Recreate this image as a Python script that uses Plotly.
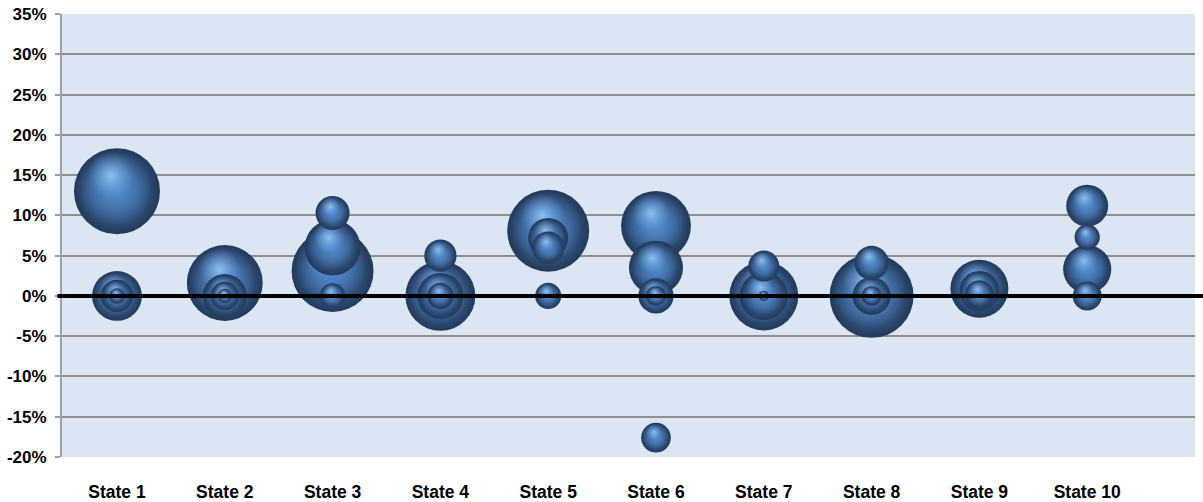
import numpy as np
import plotly.graph_objects as go

states = ["State 1", "State 2", "State 3", "State 4", "State 5",
          "State 6", "State 7", "State 8", "State 9", "State 10"]

# one entry per bubble: state number, growth (%), bubble value (area units)
bubble_state = [1, 1, 1, 1,
                2, 2, 2, 2,
                3, 3, 3, 3,
                4, 4, 4, 4,
                5, 5, 5, 5,
                6, 6, 6, 6, 6,
                7, 7, 7, 7,
                8, 8, 8, 8,
                9, 9, 9,
                10, 10, 10, 10]
bubble_growth = [13.0, 0.0, 0.0, 0.0,
                 1.6, 0.0, 0.0, 0.0,
                 3.1, 6.0, 10.3, 0.0,
                 5.0, 0.0, 0.0, 0.0,
                 8.1, 7.2, 6.0, 0.0,
                 8.7, 3.5, 0.0, 0.0, -17.6,
                 3.7, 0.0, 0.0, 0.0,
                 4.1, 0.0, 0.0, 0.0,
                 0.9, 0.6, 0.2,
                 11.2, 7.3, 3.3, 0.0]
bubble_value = [185, 62, 26, 6,
                144, 48, 20, 5,
                168, 78, 29, 16,
                26, 122, 53, 17,
                168, 40, 26, 17,
                122, 73, 31, 10, 22,
                24, 119, 58, 2.5,
                29, 176, 36, 10,
                84, 40, 20,
                44, 16, 58, 21]

y_ticks = [-20, -15, -10, -5, 0, 5, 10, 15, 20, 25, 30, 35]
y_labels = [f"{t}%" for t in y_ticks]

# layout geometry
W, H = 1203, 502
M_L, M_R, M_T, M_B = 62, 8, 14, 45
X_RANGE = [0.49, 11.0]
Y_RANGE = [-20, 35]
SIZEREF = 0.05  # radius_px = sqrt(value / (2*sizeref))

px_per_y = (H - M_T - M_B) / (Y_RANGE[1] - Y_RANGE[0])
px_per_x = (W - M_L - M_R) / (X_RANGE[1] - X_RANGE[0])

s = np.array(bubble_state, dtype=float)
g = np.array(bubble_growth, dtype=float)
v = np.array(bubble_value, dtype=float)
order = np.argsort(-v, kind="stable")

# sphere shading layers: (dx, dy, area factor, edge colour, centre colour)
# (plotly radial gradient: marker.color = rim, gradient.color = centre)
layers = [
    (0.0, 0.0, 1.0, "#22395A", "#5088C8"),
    (-0.05, 0.08, 0.74, "rgba(80,133,198,0)", "rgba(80,133,198,1)"),
    (-0.14, 0.36, 0.30, "rgba(110,162,224,0)", "rgba(150,200,248,0.9)"),
]

xs, ys, sizes, cols, gcols = [], [], [], [], []
for i in order:
    r = np.sqrt(v[i] / (2 * SIZEREF))
    for dx, dy, fa, c_edge, c_centre in layers:
        xs.append(s[i] + dx * r / px_per_x)
        ys.append(g[i] + dy * r / px_per_y)
        sizes.append(v[i] * fa)
        cols.append(c_edge)
        gcols.append(c_centre)

fig = go.Figure()
fig.add_trace(go.Scatter(
    x=xs, y=ys, mode="markers", hoverinfo="skip", showlegend=False,
    marker=dict(size=sizes, sizemode="area", sizeref=SIZEREF, opacity=1,
                color=cols,
                gradient=dict(type="radial", color=gcols),
                line=dict(width=0))))

fig.add_shape(type="line", xref="paper", yref="y", x0=-0.004, x1=1.01,
              y0=0, y1=0, line=dict(color="black", width=4), layer="above")

FONT = "Liberation Sans, Arial, sans-serif"
fig.update_layout(
    width=W, height=H,
    margin=dict(l=M_L, r=M_R, t=M_T, b=M_B),
    paper_bgcolor="white", plot_bgcolor="#DCE6F2",
    font=dict(family=FONT, size=17, color="black"),
    xaxis=dict(range=X_RANGE, tickvals=list(range(1, 11)), ticktext=states,
               automargin=False,
               showgrid=False, zeroline=False, showline=False,
               ticks="outside", ticklen=19, tickcolor="rgba(0,0,0,0)",
               tickfont=dict(family=FONT, size=17.5, color="black", weight="bold")),
    yaxis=dict(range=Y_RANGE, tickvals=y_ticks, ticktext=y_labels,
               automargin=False,
               showgrid=True, gridcolor="#8E8E8E", gridwidth=1.5,
               zeroline=False, showline=True, linecolor="#A0A0A0", linewidth=2,
               ticks="outside", ticklen=5, tickcolor="#A0A0A0", tickwidth=1.5,
               ticklabelstandoff=5,
               tickfont=dict(family=FONT, size=17, color="black", weight="bold")),
)

fig.write_html("out.html", config={"displayModeBar": False},
               post_script="document.body.style.margin='0';document.body.style.overflow='hidden';")
